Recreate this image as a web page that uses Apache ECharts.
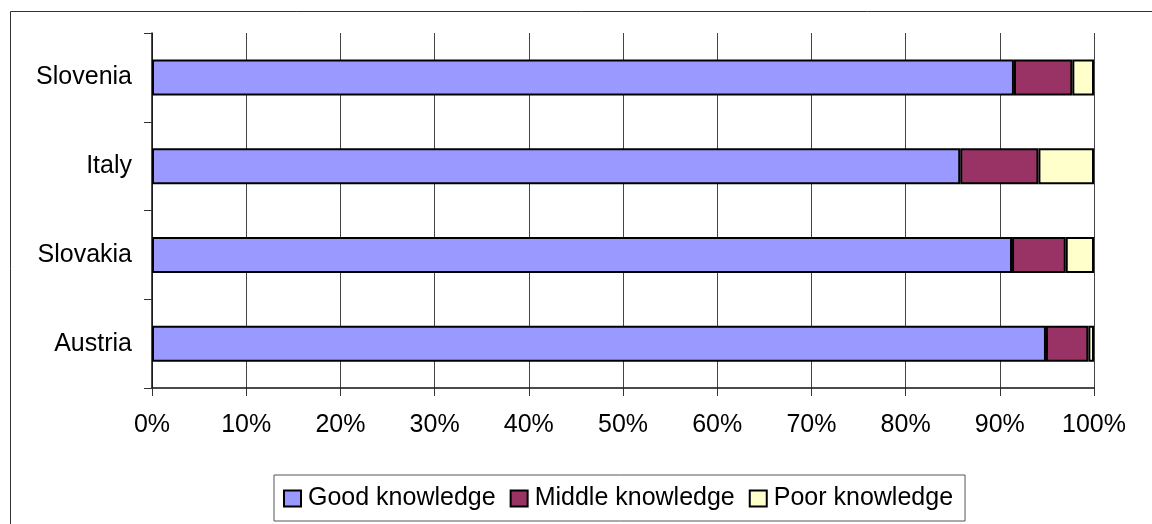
<!DOCTYPE html>
<html>
<head>
<meta charset="utf-8">
<script src="https://cdn.jsdelivr.net/npm/echarts@6/dist/echarts.min.js"></script>
<style>
  html, body { margin: 0; padding: 0; background: #fff; }
  #chart { width: 1152px; height: 524px; }
</style>
</head>
<body>
<div id="chart"></div>
<script>
const countries = ['Austria', 'Slovakia', 'Italy', 'Slovenia']
const good = [94.9, 91.3, 85.8, 91.5]
const middle = [4.5, 5.7, 8.3, 6.2]
const poor = [0.6, 3.0, 5.9, 2.3]

const chart = echarts.init(document.getElementById('chart'))

const barStyle = color => ({
  color,
  borderColor: '#000',
  borderWidth: 2
})

chart.setOption({
  textStyle: { fontFamily: 'Liberation Sans, Arial, sans-serif' },
  animation: false,
  graphic: [
    {
      type: 'rect',
      shape: { x: 10.5, y: 11.5, width: 1200, height: 600 },
      style: { fill: 'none', stroke: '#333', lineWidth: 1 },
      silent: true
    }
  ],
  grid: { left: 152, right: 58, top: 33, bottom: 136 },
  legend: {
    left: 274,
    top: 475,
    padding: [11, 12, 10, 9],
    borderColor: '#555',
    borderWidth: 1,
    itemWidth: 17,
    itemHeight: 16,
    itemGap: 14,
    icon: 'rect',
    textStyle: { fontSize: 25, color: '#000', padding: [0, 0, 0, 2] },
    data: ['Good knowledge', 'Middle knowledge', 'Poor knowledge']
  },
  xAxis: {
    type: 'value',
    min: 0,
    max: 100,
    interval: 10,
    axisLine: { show: true, lineStyle: { color: '#111', width: 1.5 } },
    axisTick: { show: true, length: 8, lineStyle: { color: '#333' } },
    axisLabel: { formatter: '{value}%', fontSize: 25, color: '#000', margin: 25 },
    splitLine: { show: true, lineStyle: { color: '#444', width: 1 } }
  },
  yAxis: {
    type: 'category',
    data: countries,
    axisLine: { show: true, lineStyle: { color: '#111', width: 1.5 } },
    axisTick: { show: true, length: 8, lineStyle: { color: '#333' } },
    axisLabel: { fontSize: 25, color: '#000', margin: 20 },
    splitLine: { show: false }
  },
  series: [
    { name: 'Good knowledge', type: 'bar', stack: 'k', barWidth: 36, data: good, itemStyle: barStyle('#9999FF') },
    { name: 'Middle knowledge', type: 'bar', stack: 'k', barWidth: 36, data: middle, itemStyle: barStyle('#993366') },
    { name: 'Poor knowledge', type: 'bar', stack: 'k', barWidth: 36, data: poor, itemStyle: barStyle('#FFFFCC') }
  ]
})
</script>
</body>
</html>
